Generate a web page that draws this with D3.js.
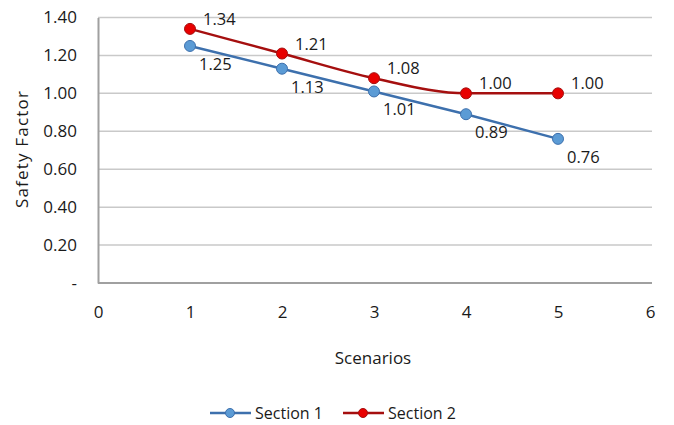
<!DOCTYPE html>
<html>
<head>
<meta charset="utf-8">
<script src="https://cdn.jsdelivr.net/npm/d3@7"></script>
<style>
  html, body { margin: 0; padding: 0; background: #fff; }
  svg text { font-family: "Open Sans", Lato, sans-serif; fill: #1a1a1a; }
</style>
</head>
<body>
<svg id="chart" width="674" height="425"></svg>
<script>
// Scenario numbers and safety factors per section
const scenarios = [1, 2, 3, 4, 5];
const section1 = [1.25, 1.13, 1.01, 0.89, 0.76];
const section2 = [1.34, 1.21, 1.08, 1.00, 1.00];
const xTicks = [0, 1, 2, 3, 4, 5, 6];
const yTicks = [0, 0.2, 0.4, 0.6, 0.8, 1.0, 1.2, 1.4];
const seriesNames = ["Section 1", "Section 2"];

const svg = d3.select("#chart");
const plot = { left: 98, right: 650, gridRight: 652, top: 17.5, bottom: 283 };
const font = "'Open Sans', Lato, sans-serif";

const x = d3.scaleLinear().domain([0, 6]).range([plot.left, plot.right]);
const y = d3.scaleLinear().domain([0, 1.4]).range([plot.bottom, plot.top]);

// horizontal gridlines
svg.append("g").selectAll("line")
  .data(yTicks.filter(d => d > 0))
  .join("line")
  .attr("x1", plot.left).attr("x2", plot.gridRight)
  .attr("y1", d => y(d)).attr("y2", d => y(d))
  .attr("stroke", "#c9c9c9").attr("stroke-width", 1.5);

// y axis
const yAxis = svg.append("g").attr("transform", `translate(${plot.left},0)`)
  .call(d3.axisLeft(y).tickValues(yTicks).tickSize(0).tickPadding(21)
    .tickFormat(d => d === 0 ? "-" : d3.format(".2f")(d)));
yAxis.select(".domain").attr("stroke", "#a0a0a0").attr("stroke-width", 2);
yAxis.selectAll("text").attr("font-size", 17).style("font-family", font).attr("fill", "#1a1a1a");

// x axis
const xAxis = svg.append("g").attr("transform", `translate(0,${plot.bottom})`)
  .call(d3.axisBottom(x).tickValues(xTicks).tickSize(0).tickPadding(23)
    .tickFormat(d3.format("d")));
xAxis.select(".domain").attr("stroke", "#a0a0a0").attr("stroke-width", 2)
  .attr("d", `M${plot.left},0H${plot.gridRight}`);
xAxis.selectAll("text").attr("font-size", 17).style("font-family", font).attr("fill", "#1a1a1a");

// axis titles
svg.append("text")
  .attr("transform", "translate(28,149) rotate(-90)")
  .attr("text-anchor", "middle").attr("font-size", 17)
  .attr("letter-spacing", 1.2)
  .text("Safety Factor");
svg.append("text")
  .attr("x", 373).attr("y", 364)
  .attr("text-anchor", "middle").attr("font-size", 17)
  .text("Scenarios");

const s1 = scenarios.map((s, i) => ({ s, v: section1[i] }));
const s2 = scenarios.map((s, i) => ({ s, v: section2[i] }));

const styles = [
  { data: s1, line: "#3d70ad", fill: "#5b9bd5", stroke: "#3d70ad", curve: d3.curveLinear, dx: 9, dy: 24 },
  { data: s2, line: "#a50f0f", fill: "#e80000", stroke: "#a50f0f", curve: d3.curveMonotoneX, dx: 13, dy: -4 }
];

styles.forEach(st => {
  const line = d3.line().x(d => x(d.s)).y(d => y(d.v)).curve(st.curve);
  svg.append("path").datum(st.data)
    .attr("d", line).attr("fill", "none")
    .attr("stroke", st.line).attr("stroke-width", 2.5);
  svg.append("g").selectAll("circle").data(st.data).join("circle")
    .attr("cx", d => x(d.s)).attr("cy", d => y(d.v)).attr("r", 5.5)
    .attr("fill", st.fill).attr("stroke", st.stroke).attr("stroke-width", 1);
  svg.append("g").selectAll("text").data(st.data).join("text")
    .attr("x", d => x(d.s) + st.dx).attr("y", d => y(d.v) + st.dy)
    .attr("font-size", 16.5)
    .text(d => d3.format(".2f")(d.v));
});

// legend
const legend = svg.append("g").attr("transform", "translate(0,413)");
const legendItems = [
  { name: seriesNames[0], x: 210, line: "#3d70ad", fill: "#5b9bd5", stroke: "#3d70ad" },
  { name: seriesNames[1], x: 343, line: "#a50f0f", fill: "#e80000", stroke: "#a50f0f" }
];
legendItems.forEach(it => {
  legend.append("line").attr("x1", it.x).attr("x2", it.x + 41)
    .attr("y1", 0).attr("y2", 0).attr("stroke", it.line).attr("stroke-width", 2.5);
  legend.append("circle").attr("cx", it.x + 20).attr("cy", 0).attr("r", 4.5)
    .attr("fill", it.fill).attr("stroke", it.stroke);
  legend.append("text").attr("x", it.x + 45).attr("y", 6)
    .attr("font-size", 16).text(it.name);
});
</script>
</body>
</html>
